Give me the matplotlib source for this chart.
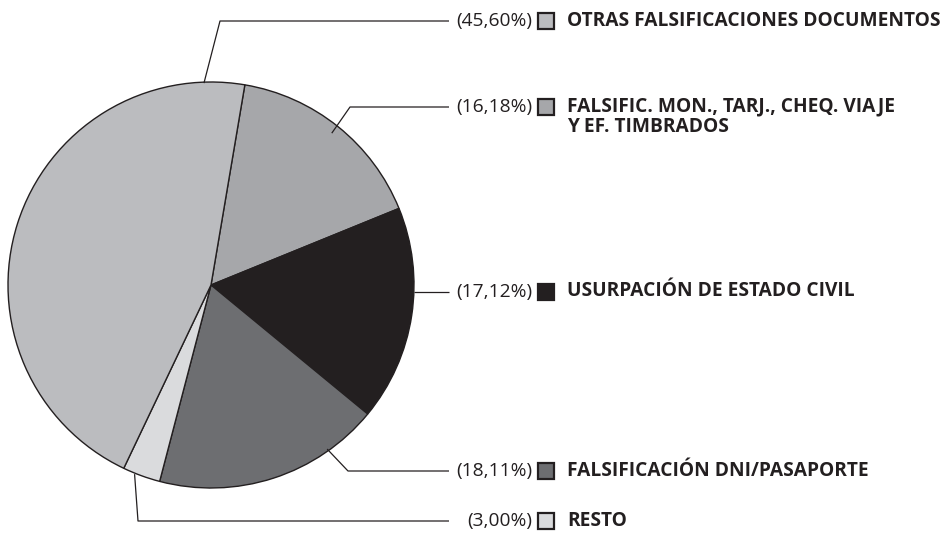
import numpy as np
import matplotlib.pyplot as plt
from matplotlib.patches import Rectangle

# categorías en el orden de la leyenda (de arriba abajo)
categorias = ['OTRAS FALSIFICACIONES DOCUMENTOS',
              'FALSIFIC. MON., TARJ., CHEQ. VIAJE\nY EF. TIMBRADOS',
              'USURPACIÓN DE ESTADO CIVIL',
              'FALSIFICACIÓN DNI/PASAPORTE',
              'RESTO']
porcentajes = [45.60, 16.18, 17.12, 18.11, 3.00]
colores = ['#bbbcbf', '#a6a7aa', '#231f20', '#6d6e71', '#dadbdd']

# orden de los sectores, en sentido horario desde arriba
orden_tarta = [1, 2, 3, 4, 0]

# geometría (en píxeles, eje y hacia abajo)
cx, cy, radio = 211, 285, 203
inicio = 80.4
filas_y = [21, 107, 292, 471, 521]
anclas = [(92, 202), (51.5, 194), (-2, 203), (-54.7, 201), (-112, 204)]
codos_x = [220, 350, None, 348, 138]
fin_linea = 449

plt.rcParams['font.family'] = ['Open Sans', 'DejaVu Sans']

fig = plt.figure(figsize=(9.5, 5.35), dpi=100)
ax = fig.add_axes([0, 0, 1, 1])

vals = [porcentajes[i] for i in orden_tarta]
cols = [colores[i] for i in orden_tarta]
ax.pie(vals, colors=cols, center=(cx, cy), radius=radio,
       startangle=-inicio, counterclock=True,
       wedgeprops=dict(edgecolor='#231f20', linewidth=1.0))

ax.set_xlim(0, 950)
ax.set_ylim(535, 0)
ax.set_aspect('equal')
ax.axis('off')

for i, nombre in enumerate(categorias):
    ang, r = anclas[i]
    x0 = cx + r * np.cos(np.radians(ang))
    y0 = cy - r * np.sin(np.radians(ang))
    fy = filas_y[i]
    if codos_x[i] is None:
        xs, ys = [x0, fin_linea], [fy, fy]
    else:
        xs, ys = [x0, codos_x[i], fin_linea], [y0, fy, fy]
    ax.plot(xs, ys, color='#231f20', lw=0.9, solid_capstyle='butt')

    ax.text(532, fy, '(%s%%)' % ('%.2f' % porcentajes[i]).replace('.', ','),
            ha='right', va='center', fontsize=13.8, color='#231f20')
    ax.add_patch(Rectangle((537.5, fy - 8.5), 16, 16, facecolor=colores[i],
                           edgecolor='#231f20', lw=1.6))
    ax.text(567, fy - 10.5, nombre, ha='left', va='top', fontsize=13.8,
            fontweight='bold', color='#231f20', linespacing=1.05)

fig.savefig('out.png', dpi=100)
